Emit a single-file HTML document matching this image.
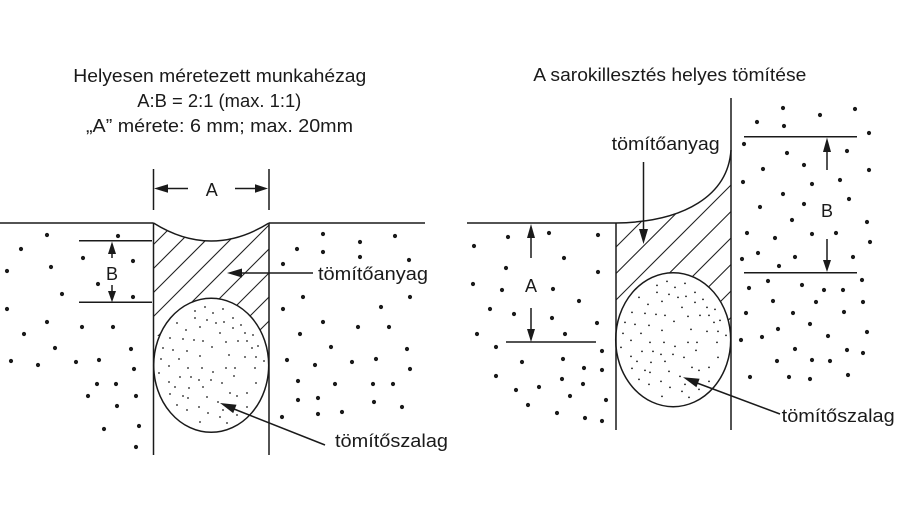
<!DOCTYPE html>
<html><head><meta charset="utf-8"><style>html,body{margin:0;padding:0;background:#fff;}svg{display:block}</style></head>
<body>
<svg width="904" height="515" viewBox="0 0 904 515" xmlns="http://www.w3.org/2000/svg" xmlns:xlink="http://www.w3.org/1999/xlink">
<defs>
<clipPath id="cl"><path d="M153.5,223 Q211,259 269,223 L269,336 L153.5,336 Z"/></clipPath>
<clipPath id="cr"><path d="M616,223 C685,222 728,195 731,150 L731,320 L616,320 Z"/></clipPath>
</defs>
<rect width="904" height="515" fill="#fff"/>
<g font-family="Liberation Sans, sans-serif" font-size="18" fill="#1a1a1a">
<text x="73.3" y="82" textLength="293" lengthAdjust="spacingAndGlyphs">Helyesen méretezett munkahézag</text>
<text x="137.3" y="107" textLength="164" lengthAdjust="spacingAndGlyphs">A:B = 2:1 (max. 1:1)</text>
<text x="86" y="132" textLength="267" lengthAdjust="spacingAndGlyphs">„A” mérete: 6 mm; max. 20mm</text>
<text x="533.3" y="81" textLength="273" lengthAdjust="spacingAndGlyphs">A sarokillesztés helyes tömítése</text>
<text x="211.7" y="196" text-anchor="middle">A</text>
<text x="112" y="280" text-anchor="middle">B</text>
<text x="318" y="280" textLength="110" lengthAdjust="spacingAndGlyphs">tömítőanyag</text>
<text x="335" y="447" textLength="113" lengthAdjust="spacingAndGlyphs">tömítőszalag</text>
<text x="611.7" y="150" textLength="108" lengthAdjust="spacingAndGlyphs">tömítőanyag</text>
<text x="531" y="292" text-anchor="middle">A</text>
<text x="827" y="217" text-anchor="middle">B</text>
<text x="781.7" y="422" textLength="113" lengthAdjust="spacingAndGlyphs">tömítőszalag</text>
</g>

<!-- hatching -->
<g stroke="#222" stroke-width="1.1" clip-path="url(#cl)">
<path d="M140,234 L280,94 M140,258 L280,118 M140,282 L280,142 M140,306 L280,166 M140,330 L280,190 M140,354 L280,214 M140,378 L280,238 M140,402 L280,262 M140,426 L280,286 M140,450 L280,310 M140,474 L280,334"/>
</g>
<g stroke="#222" stroke-width="1.1" clip-path="url(#cr)">
<path d="M600,263 L745,118 M600,289.5 L745,144.5 M600,316 L745,171 M600,342.5 L745,197.5 M600,369 L745,224 M600,395.5 L745,250.5 M600,422 L745,277 M600,448.5 L745,303.5"/>
</g>

<g fill="#fff" stroke="#1a1a1a" stroke-width="1.5">
<ellipse cx="211.2" cy="365.3" rx="57.5" ry="67"/>
<ellipse cx="673.2" cy="339.7" rx="57.5" ry="67"/>
</g>

<g fill="#1a1a1a" id="sd">
<circle cx="205" cy="307" r="0.9"/><circle cx="195" cy="311" r="0.9"/><circle cx="213" cy="313" r="0.9"/><circle cx="223" cy="309" r="0.9"/>
<circle cx="195" cy="318" r="0.9"/><circle cx="207" cy="320" r="0.9"/><circle cx="216" cy="323" r="0.9"/><circle cx="233" cy="318" r="0.9"/>
<circle cx="177" cy="323" r="0.9"/><circle cx="200" cy="327" r="0.9"/><circle cx="224" cy="322" r="0.9"/><circle cx="186" cy="330" r="0.9"/>
<circle cx="220" cy="333" r="0.9"/><circle cx="233" cy="328" r="0.9"/><circle cx="241" cy="325" r="0.9"/><circle cx="245" cy="333" r="0.9"/>
<circle cx="253" cy="335" r="0.9"/><circle cx="170" cy="338" r="0.9"/><circle cx="183" cy="339" r="0.9"/><circle cx="194" cy="340" r="0.9"/>
<circle cx="203" cy="341" r="0.9"/><circle cx="226" cy="342" r="0.9"/><circle cx="238" cy="341" r="0.9"/><circle cx="247" cy="341" r="0.9"/>
<circle cx="258" cy="346" r="0.9"/><circle cx="163" cy="348" r="0.9"/><circle cx="173" cy="350" r="0.9"/><circle cx="187" cy="351" r="0.9"/>
<circle cx="212" cy="347" r="0.9"/><circle cx="252" cy="348" r="0.9"/><circle cx="161" cy="359" r="0.9"/><circle cx="179" cy="359" r="0.9"/>
<circle cx="200" cy="356" r="0.9"/><circle cx="229" cy="355" r="0.9"/><circle cx="245" cy="357" r="0.9"/><circle cx="256" cy="357" r="0.9"/>
<circle cx="264" cy="361" r="0.9"/><circle cx="169" cy="366" r="0.9"/><circle cx="188" cy="368" r="0.9"/><circle cx="202" cy="368" r="0.9"/>
<circle cx="213" cy="372" r="0.9"/><circle cx="226" cy="368" r="0.9"/><circle cx="235" cy="368" r="0.9"/><circle cx="255" cy="368" r="0.9"/>
<circle cx="159" cy="373" r="0.9"/><circle cx="180" cy="377" r="0.9"/><circle cx="191" cy="377" r="0.9"/><circle cx="199" cy="380" r="0.9"/>
<circle cx="211" cy="380" r="0.9"/><circle cx="234" cy="376" r="0.9"/><circle cx="169" cy="382" r="0.9"/><circle cx="256" cy="383" r="0.9"/>
<circle cx="175" cy="387" r="0.9"/><circle cx="189" cy="388" r="0.9"/><circle cx="203" cy="387" r="0.9"/><circle cx="222" cy="383" r="0.9"/>
<circle cx="170" cy="394" r="0.9"/><circle cx="183" cy="396" r="0.9"/><circle cx="207" cy="397" r="0.9"/><circle cx="230" cy="393" r="0.9"/>
<circle cx="237" cy="396" r="0.9"/><circle cx="247" cy="393" r="0.9"/><circle cx="177" cy="405" r="0.9"/><circle cx="188" cy="398" r="0.9"/>
<circle cx="199" cy="407" r="0.9"/><circle cx="218" cy="402" r="0.9"/><circle cx="187" cy="410" r="0.9"/><circle cx="208" cy="413" r="0.9"/>
<circle cx="223" cy="410" r="0.9"/><circle cx="237" cy="415" r="0.9"/><circle cx="200" cy="422" r="0.9"/><circle cx="220" cy="417" r="0.9"/>
<circle cx="227" cy="423" r="0.9"/><circle cx="247" cy="407" r="0.9"/>
</g>
<use xlink:href="#sd" href="#sd" transform="translate(462,-25.6)"/>

<g stroke="#1a1a1a" stroke-width="1.5" fill="none">
<!-- left diagram -->
<path d="M0,223 H153.5 M269,223 H425"/>
<path d="M153.5,223 V455 M269,223 V455"/>
<path d="M153.5,169 V210 M269,169 V210"/>
<path d="M153.5,223 Q211,259 269,223"/>
<path d="M168,188.5 H188 M235,188.5 H256"/>
<path d="M79,240.7 H152 M79,302.3 H152"/>
<path d="M112,253 V258 M112,285 V292"/>
<path d="M241,273 H313"/>
<path d="M325,445 L234,409"/>
<!-- right diagram -->
<path d="M467,223 H616"/>
<path d="M616,223 V430 M731,98 V430"/>
<path d="M616,223 C685,222 728,195 731,150"/>
<path d="M643.5,162 V230"/>
<path d="M531,237 V258 M531,308 V330"/>
<path d="M506,342 H596"/>
<path d="M744,136.7 H857 M744,272.7 H857"/>
<path d="M827,151 V170 M827,239 V261"/>
<path d="M780,414 L697,383"/>
</g>

<g fill="#1a1a1a">
<polygon points="154,188.5 168,184.2 168,192.8"/>
<polygon points="268,188.5 255,184.2 255,192.8"/>
<polygon points="112,241.5 108,254 116,254"/>
<polygon points="112,302.3 108,291 116,291"/>
<polygon points="227,273 242,268.5 242,277.5"/>
<polygon points="220,403 233.2,413.1 236.5,404.7"/>
<polygon points="643.5,244 639,229 648,229"/>
<polygon points="531,224 527,238 535,238"/>
<polygon points="531,342 527,329 535,329"/>
<polygon points="827,137.5 823,152 831,152"/>
<polygon points="827,272 823,260 831,260"/>
<polygon points="683,377.3 696.4,387.2 699.6,378.8"/>
</g>

<g fill="#1a1a1a">
<!-- left diagram, left side -->
<circle cx="47" cy="235" r="2.1"/><circle cx="118" cy="236" r="2.1"/><circle cx="21" cy="249" r="2.1"/><circle cx="83" cy="258" r="2.1"/>
<circle cx="133" cy="261" r="2.1"/><circle cx="51" cy="267" r="2.1"/><circle cx="7" cy="271" r="2.1"/><circle cx="98" cy="284" r="2.1"/>
<circle cx="62" cy="294" r="2.1"/><circle cx="133" cy="297" r="2.1"/><circle cx="7" cy="309" r="2.1"/><circle cx="47" cy="322" r="2.1"/>
<circle cx="82" cy="327" r="2.1"/><circle cx="113" cy="327" r="2.1"/><circle cx="24" cy="334" r="2.1"/><circle cx="55" cy="348" r="2.1"/>
<circle cx="131" cy="349" r="2.1"/><circle cx="11" cy="361" r="2.1"/><circle cx="38" cy="365" r="2.1"/><circle cx="76" cy="362" r="2.1"/>
<circle cx="99" cy="360" r="2.1"/><circle cx="134" cy="369" r="2.1"/><circle cx="97" cy="384" r="2.1"/><circle cx="116" cy="384" r="2.1"/>
<circle cx="88" cy="396" r="2.1"/><circle cx="136" cy="396" r="2.1"/><circle cx="117" cy="406" r="2.1"/><circle cx="104" cy="429" r="2.1"/>
<circle cx="139" cy="426" r="2.1"/><circle cx="136" cy="447" r="2.1"/>
<!-- left diagram, right side -->
<circle cx="323" cy="234" r="2.1"/><circle cx="395" cy="236" r="2.1"/><circle cx="360" cy="242" r="2.1"/><circle cx="297" cy="249" r="2.1"/>
<circle cx="323" cy="252" r="2.1"/><circle cx="360" cy="257" r="2.1"/><circle cx="409" cy="260" r="2.1"/><circle cx="283" cy="264" r="2.1"/>
<circle cx="303" cy="297" r="2.1"/><circle cx="410" cy="297" r="2.1"/><circle cx="283" cy="309" r="2.1"/><circle cx="381" cy="307" r="2.1"/>
<circle cx="323" cy="322" r="2.1"/><circle cx="358" cy="327" r="2.1"/><circle cx="389" cy="327" r="2.1"/><circle cx="300" cy="334" r="2.1"/>
<circle cx="331" cy="347" r="2.1"/><circle cx="407" cy="349" r="2.1"/><circle cx="287" cy="360" r="2.1"/><circle cx="315" cy="365" r="2.1"/>
<circle cx="352" cy="362" r="2.1"/><circle cx="376" cy="359" r="2.1"/><circle cx="410" cy="369" r="2.1"/><circle cx="298" cy="381" r="2.1"/>
<circle cx="335" cy="384" r="2.1"/><circle cx="373" cy="384" r="2.1"/><circle cx="393" cy="384" r="2.1"/><circle cx="298" cy="400" r="2.1"/>
<circle cx="318" cy="398" r="2.1"/><circle cx="374" cy="402" r="2.1"/><circle cx="402" cy="407" r="2.1"/><circle cx="282" cy="417" r="2.1"/>
<circle cx="318" cy="414" r="2.1"/><circle cx="342" cy="412" r="2.1"/>
<!-- right diagram, left side -->
<circle cx="508" cy="237" r="2.1"/><circle cx="549" cy="233" r="2.1"/><circle cx="598" cy="235" r="2.1"/><circle cx="474" cy="246" r="2.1"/>
<circle cx="564" cy="258" r="2.1"/><circle cx="506" cy="268" r="2.1"/><circle cx="598" cy="272" r="2.1"/><circle cx="473" cy="284" r="2.1"/>
<circle cx="502" cy="290" r="2.1"/><circle cx="553" cy="289" r="2.1"/><circle cx="579" cy="301" r="2.1"/><circle cx="490" cy="309" r="2.1"/>
<circle cx="514" cy="314" r="2.1"/><circle cx="552" cy="318" r="2.1"/><circle cx="597" cy="323" r="2.1"/><circle cx="477" cy="334" r="2.1"/>
<circle cx="565" cy="334" r="2.1"/><circle cx="496" cy="347" r="2.1"/><circle cx="602" cy="351" r="2.1"/><circle cx="522" cy="362" r="2.1"/>
<circle cx="563" cy="359" r="2.1"/><circle cx="584" cy="368" r="2.1"/><circle cx="602" cy="370" r="2.1"/><circle cx="496" cy="376" r="2.1"/>
<circle cx="562" cy="379" r="2.1"/><circle cx="516" cy="390" r="2.1"/><circle cx="539" cy="387" r="2.1"/><circle cx="583" cy="384" r="2.1"/>
<circle cx="570" cy="396" r="2.1"/><circle cx="606" cy="400" r="2.1"/><circle cx="528" cy="405" r="2.1"/><circle cx="557" cy="413" r="2.1"/>
<circle cx="585" cy="418" r="2.1"/><circle cx="602" cy="421" r="2.1"/>
<!-- right diagram, right side -->
<circle cx="783" cy="108" r="2.1"/><circle cx="820" cy="115" r="2.1"/><circle cx="855" cy="109" r="2.1"/><circle cx="757" cy="122" r="2.1"/>
<circle cx="784" cy="126" r="2.1"/><circle cx="869" cy="133" r="2.1"/><circle cx="744" cy="144" r="2.1"/><circle cx="787" cy="153" r="2.1"/>
<circle cx="847" cy="151" r="2.1"/><circle cx="804" cy="165" r="2.1"/><circle cx="763" cy="169" r="2.1"/><circle cx="869" cy="170" r="2.1"/>
<circle cx="840" cy="180" r="2.1"/><circle cx="743" cy="182" r="2.1"/><circle cx="812" cy="184" r="2.1"/><circle cx="783" cy="194" r="2.1"/>
<circle cx="849" cy="199" r="2.1"/><circle cx="760" cy="207" r="2.1"/><circle cx="804" cy="204" r="2.1"/><circle cx="792" cy="220" r="2.1"/>
<circle cx="867" cy="222" r="2.1"/><circle cx="747" cy="233" r="2.1"/><circle cx="775" cy="238" r="2.1"/><circle cx="812" cy="234" r="2.1"/>
<circle cx="836" cy="233" r="2.1"/><circle cx="870" cy="242" r="2.1"/><circle cx="758" cy="253" r="2.1"/><circle cx="742" cy="259" r="2.1"/>
<circle cx="795" cy="257" r="2.1"/><circle cx="779" cy="266" r="2.1"/><circle cx="853" cy="257" r="2.1"/><circle cx="749" cy="288" r="2.1"/>
<circle cx="768" cy="281" r="2.1"/><circle cx="802" cy="285" r="2.1"/><circle cx="824" cy="290" r="2.1"/><circle cx="843" cy="290" r="2.1"/>
<circle cx="862" cy="280" r="2.1"/><circle cx="773" cy="301" r="2.1"/><circle cx="816" cy="302" r="2.1"/><circle cx="863" cy="302" r="2.1"/>
<circle cx="746" cy="313" r="2.1"/><circle cx="793" cy="313" r="2.1"/><circle cx="844" cy="312" r="2.1"/><circle cx="810" cy="324" r="2.1"/>
<circle cx="778" cy="329" r="2.1"/><circle cx="867" cy="332" r="2.1"/><circle cx="741" cy="340" r="2.1"/><circle cx="762" cy="337" r="2.1"/>
<circle cx="828" cy="336" r="2.1"/><circle cx="795" cy="349" r="2.1"/><circle cx="847" cy="350" r="2.1"/><circle cx="863" cy="353" r="2.1"/>
<circle cx="777" cy="361" r="2.1"/><circle cx="812" cy="360" r="2.1"/><circle cx="830" cy="361" r="2.1"/><circle cx="750" cy="377" r="2.1"/>
<circle cx="789" cy="377" r="2.1"/><circle cx="810" cy="379" r="2.1"/><circle cx="848" cy="375" r="2.1"/>
</g>
</svg>
</body></html>
